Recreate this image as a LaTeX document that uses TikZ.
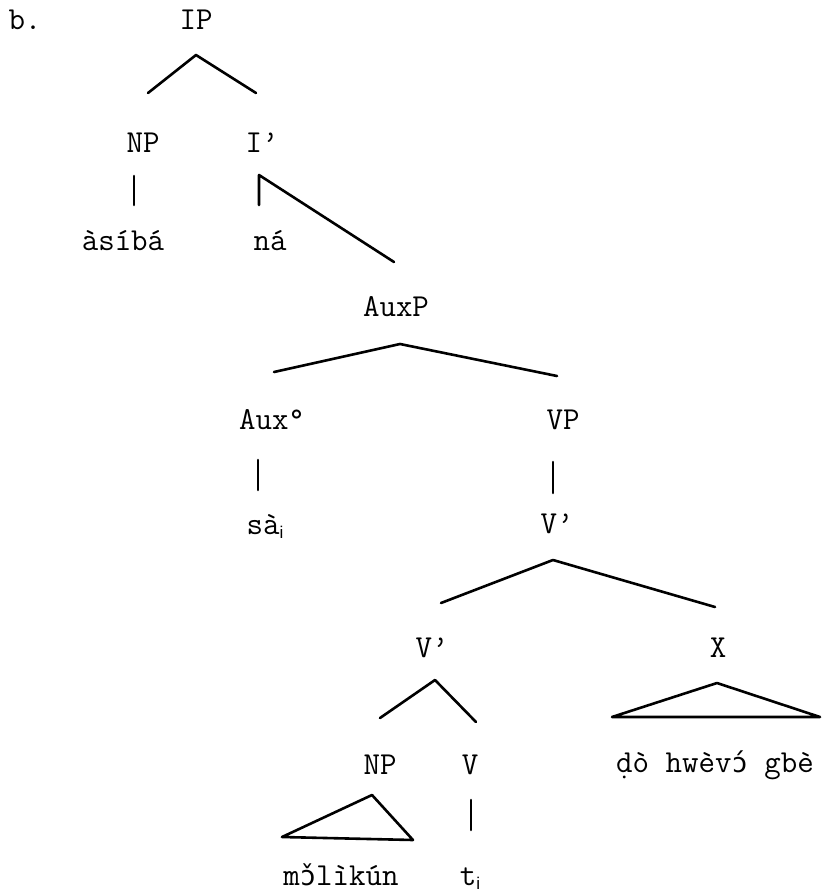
\documentclass[tikz,border=0pt]{standalone}
\usepackage{fontspec}
\newfontfamily\ipafont[Scale=0.85]{DejaVu Sans Mono}
\newfontfamily\subsfont{Liberation Sans}
\usetikzlibrary{positioning, calc}
\newcommand{\trsub}[1]{\raisebox{-4pt}{\subsfont\fontsize{17}{17}\selectfont #1}}

\begin{document}
\begin{tikzpicture}[x=1pt,y=-1pt,
	cat/.style={font=\ttfamily\fontsize{32}{34}\selectfont, inner sep=0pt, text height=19pt, text depth=0pt},
	word/.style={font=\ttfamily\fontsize{32}{34}\selectfont, inner sep=0pt, text height=14pt, text depth=0pt},
	branch/.style={line width=2.6pt, line join=round, line cap=round}]
	\useasboundingbox (0,0) rectangle (832,892);
	
	%Labels
	\node[cat] (b) at (25,20) {b.};
	\node[cat] (IP) at (196,20) {IP};
	\node[cat] (NP1) at (143,143) {NP};
	\node[cat] (Ib) at (262,143) {I’};
	\node[word] (asiba) at (123,243) {àsíbá};
	\node[word] (na) at (270,243) {ná};
	\node[cat] (AuxP) at (396,307) {AuxP};
	\node[cat] (Aux) at (272,420) {Aux°};
	\node[cat] (VP) at (563,420) {VP};
	\node[word] (sa) at (265,527) {sà\trsub{i}};
	\node[cat] (Vb1) at (557,524) {V’};
	\node[cat] (Vb2) at (432,648) {V’};
	\node[cat] (X) at (718,648) {X};
	\node[cat] (NP2) at (380,765) {NP};
	\node[cat] (V) at (470,765) {V};
	\node[word] (dohwevo) at (715,765) {ḍò hwèv{\ipafont ɔ́} gbè};
	\node[word] (moliku) at (341,878) {m{\ipafont ɔ̌}lìkún};
	\node[word] (t) at (470,878) {t\trsub{i}};
	
	%Branches
	\draw[branch] ([xshift=5pt,yshift=50pt]NP1.center) -- ([yshift=-35pt]IP.center) -- ([xshift=-6pt,yshift=50pt]Ib.center);
	\draw[branch] ([xshift=-9pt,yshift=-33pt]NP1.center) -- ([xshift=11pt,yshift=38pt]asiba.center);
	\draw[branch] ([xshift=-11pt,yshift=38pt]na.center) -- ([xshift=-3pt,yshift=-32pt]Ib.center) -- ([xshift=-2pt,yshift=45pt]AuxP.center);
	\draw[branch] ([xshift=2pt,yshift=48pt]Aux.center) -- ([xshift=4pt,yshift=-37pt]AuxP.center) -- ([xshift=-6pt,yshift=44pt]VP.center);
	\draw[branch] ([xshift=-14pt,yshift=-40pt]Aux.center) -- ([xshift=-7pt,yshift=37pt]sa.center);
	\draw[branch] ([xshift=-10pt,yshift=-42pt]VP.center) -- ([xshift=-4pt,yshift=31pt]Vb1.center);
	\draw[branch] ([xshift=9pt,yshift=45pt]Vb2.center) -- ([xshift=-4pt,yshift=-36pt]Vb1.center) -- ([xshift=-3pt,yshift=41pt]X.center);
	\draw[branch] ([yshift=47pt]NP2.center) -- ([xshift=3pt,yshift=-32pt]Vb2.center) -- ([xshift=6pt,yshift=43pt]V.center);
	\draw[branch] ([xshift=1pt,yshift=-35pt]V.center) -- ([xshift=1pt,yshift=48pt]t.center);
	
	%Triangles
	\draw[branch] ([xshift=-1pt,yshift=-35pt]X.center) -- ([xshift=-103pt,yshift=48pt]dohwevo.center) -- ([xshift=105pt,yshift=48pt]dohwevo.center) -- cycle;
	\draw[branch] ([xshift=-8pt,yshift=-30pt]NP2.center) -- ([xshift=-59pt,yshift=41pt]moliku.center) -- ([xshift=72pt,yshift=38pt]moliku.center) -- cycle;
	
\end{tikzpicture}
\end{document}
